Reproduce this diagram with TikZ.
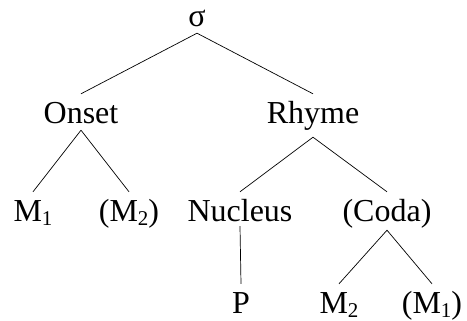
\documentclass[tikz,border=0pt]{standalone}
\usepackage{fontspec}
\setmainfont{Liberation Serif}
\usetikzlibrary{positioning,calc}
\definecolor{paper}{HTML}{FFFFFF}
\definecolor{ink}{HTML}{000000}
\newcommand{\RowA}{27}
\newcommand{\RowB}{124}
\newcommand{\RowC}{222}
\newcommand{\RowD}{314}
\newcommand{\moraidx}[1]{\raisebox{-0.12em}{\fontsize{21}{21}\selectfont#1}}

\begin{document}
\begin{tikzpicture}[
    x=1pt, y=-1pt, ink,
    font=\fontsize{32}{38}\selectfont,
    unit/.style={anchor=base, inner sep=0pt, text height=30pt, text depth=6pt},
    branch/.style={-, line width=0.7pt, draw=ink},
  ]
\useasboundingbox[fill=paper] (0,0) rectangle (467,321);

% Syllable and its two halves.
\node[unit] (syl) at (197, \RowA) {σ};
\node[unit] (onset) at (81, \RowB) {Onset};
\node[unit, text depth=13pt] (rhyme) at (313, \RowB) {Rhyme};

% Onset moras, rhyme parts.
\node[unit] (om1) at (33, \RowC) {M\moraidx{1}};
\node[unit] (om2) at (129, \RowC) {(M\moraidx{2})};
\node[unit, text depth=4pt] (nucleus) at (240, \RowC) {Nucleus};
\node[unit, text depth=8pt] (coda) at (387, \RowC) {(Coda)};

% Bottom row.
\node[unit] (peak) at (241, \RowD) {P};
\node[unit] (cm2) at (339, \RowD) {M\moraidx{2}};
\node[unit] (cm1) at (432, \RowD) {(M\moraidx{1})};

\foreach \a/\b in {syl/onset, syl/rhyme, onset/om1, onset/om2,
    rhyme/nucleus, rhyme/coda, nucleus/peak, coda/cm2, coda/cm1}
  \draw[branch] (\a.south) -- (\b.north);

\end{tikzpicture}
\end{document}
